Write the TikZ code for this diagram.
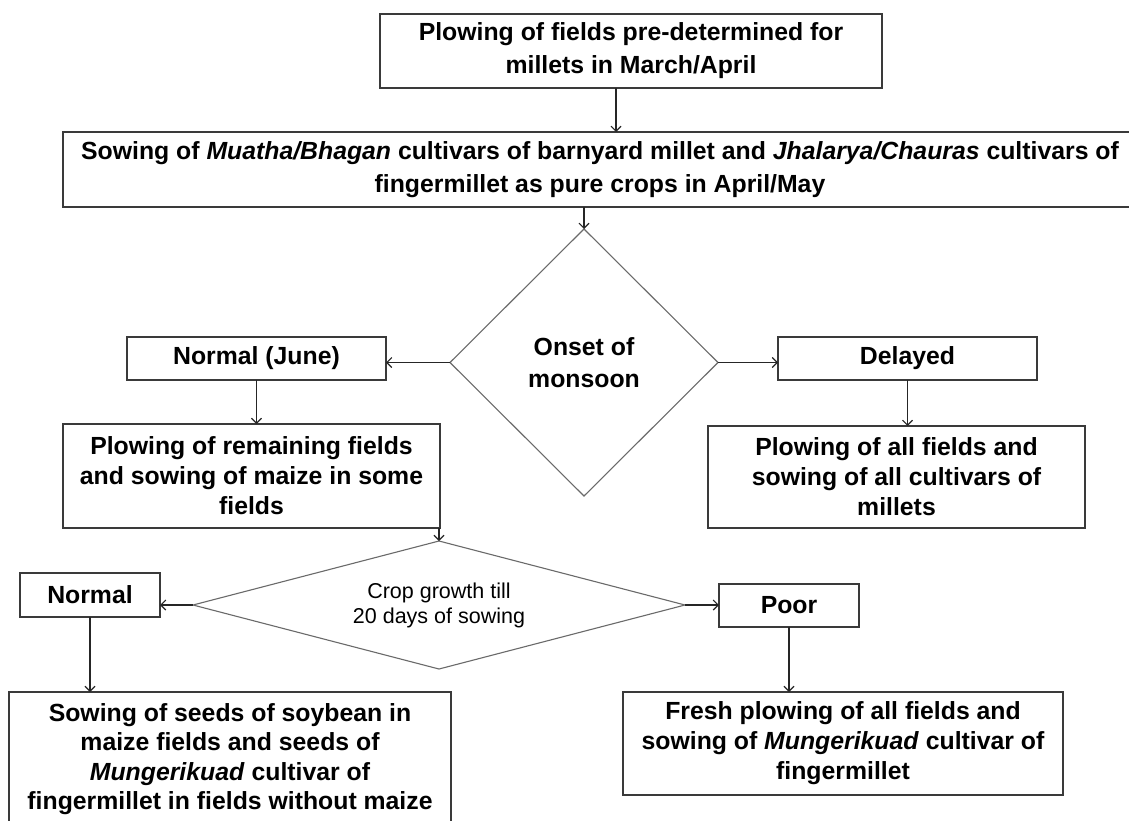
\documentclass[tikz,border=0pt]{standalone}
\usepackage{fontspec}
\setmainfont{Liberation Sans}
\usetikzlibrary{shapes.geometric,arrows.meta}
\definecolor{boxline}{HTML}{3A3A3A}
\definecolor{dline}{HTML}{6A6A6A}
\begin{document}
\begin{tikzpicture}[x=1pt,y=-1pt,
  box/.style={draw=boxline,line width=1.4pt,inner sep=0pt,outer sep=0pt,align=center,
              font=\bfseries\fontsize{24.8}{30}\selectfont},
  wide/.style={font=\bfseries\fontsize{24.8}{33}\selectfont},
  dia/.style={diamond,draw=dline,line width=1.1pt,inner sep=0pt,outer sep=0pt,align=center},
  arr/.style={draw=black!85,line width=1.1pt,-{Straight Barb[length=5pt,width=10pt]}}]
\useasboundingbox (0,0) rectangle (1129,820);
\clip (0,0) rectangle (1129,820);
\fill[white] (0,0) rectangle (1129,820);

\node[box,wide,minimum width=502pt,minimum height=74pt] (top) at (631,51)
  {Plowing of fields pre-determined for\\millets in March/April};
\node[box,wide,minimum width=1074pt,minimum height=75pt] (sec) at (600,169.5)
  {Sowing of \textit{Muatha/Bhagan} cultivars of barnyard millet and \textit{Jhalarya/Chauras} cultivars of\\fingermillet as pure crops in April/May};
\node[dia,minimum width=268pt,minimum height=267pt,
      font=\bfseries\fontsize{24.8}{32}\selectfont] (d1) at (584,362.5) {Onset of\\monsoon};
\node[box,minimum width=259pt,minimum height=43pt] (nj) at (256.5,358.5) {Normal (June)};
\node[box,minimum width=259pt,minimum height=43pt] (del) at (907.5,358.5) {Delayed};
\node[box,minimum width=377pt,minimum height=104pt] (rem) at (251.5,476)
  {Plowing of remaining fields\\and sowing of maize in some\\fields};
\node[box,minimum width=377pt,minimum height=102pt] (all) at (896.5,477)
  {Plowing of all fields and\\sowing of all cultivars of\\millets};
\node[dia,aspect=3.84,minimum width=492pt,minimum height=128pt,
      font=\fontsize{21.5}{25}\selectfont] (d2) at (439,605) {Crop growth till\\20 days of sowing};
\node[box,minimum width=140pt,minimum height=44pt] (nor) at (90,595) {Normal};
\node[box,minimum width=140pt,minimum height=43pt] (poor) at (789,605.5) {Poor};
\node[box,minimum width=442pt,minimum height=134pt,
      font=\bfseries\fontsize{24.8}{29.5}\selectfont] (bl) at (230,759)
  {Sowing of seeds of soybean in\\maize fields and seeds of\\\textit{Mungerikuad} cultivar of\\fingermillet in fields without maize};
\node[box,minimum width=440pt,minimum height=103pt] (br) at (843,743.5)
  {Fresh plowing of all fields and\\sowing of \textit{Mungerikuad} cultivar of\\fingermillet};

\coordinate (ta) at ([xshift=-15pt]top.south);
\draw[arr] (ta) -- (ta |- sec.north);
\draw[arr] (d1.north |- sec.south) -- (d1.north);
\draw[arr] (d1.west) -- (d1.west -| nj.east);
\draw[arr] (d1.east) -- (d1.east -| del.west);
\draw[arr] (nj.south) -- (nj.south |- rem.north);
\draw[arr] (del.south) -- (del.south |- all.north);
\draw[arr] (d2.north |- rem.south) -- (d2.north);
\draw[arr] (d2.west) -- (d2.west -| nor.east);
\draw[arr] (d2.east) -- (d2.east -| poor.west);
\draw[arr] (nor.south) -- (nor.south |- bl.north);
\draw[arr] (poor.south) -- (poor.south |- br.north);
\end{tikzpicture}
\end{document}
